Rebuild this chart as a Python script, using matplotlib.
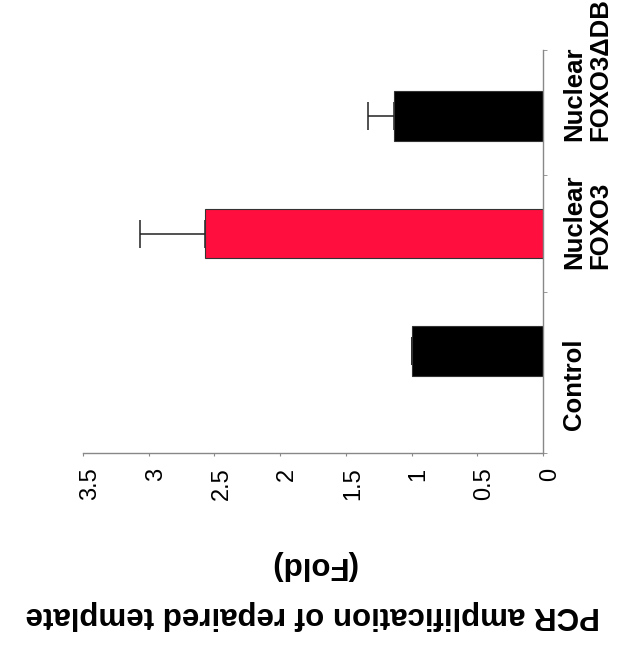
import numpy as np
import matplotlib
matplotlib.use("Agg")
import matplotlib.pyplot as plt
from matplotlib.transforms import ScaledTranslation

# bars from bottom to top (chart is drawn turned on its side)
categories = ["Control", "Nuclear\nFOXO3", "Nuclear\nFOXO3\u0394DB"]
fold = [1.00, 2.57, 1.13]
err_up = [0.0, 0.50, 0.20]
bar_colors = ["#000000", "#FF0E3E", "#000000"]
value_ticks = [0, 0.5, 1, 1.5, 2, 2.5, 3, 3.5]
value_labels = ["0", "0.5", "1", "1.5", "2", "2.5", "3", "3.5"]
label_shift_px = [-33, 12, 46]   # nudge of each category label along the axis

plt.rcParams["font.family"] = ["Liberation Sans", "DejaVu Sans"]

fig = plt.figure(figsize=(6.2, 6.58), dpi=100)
ax = fig.add_axes([83 / 620, 205 / 658, 460 / 620, 403 / 658])

pos = np.arange(len(categories))
ax.barh(pos, fold, height=0.425, color=bar_colors, edgecolor="#333333",
        linewidth=0.8, zorder=2)
ax.errorbar(fold, pos, xerr=[np.zeros(len(fold)), err_up], fmt="none",
            ecolor="#222222", elinewidth=1.1, capsize=10, capthick=1.1, zorder=1)

ax.set_xlim(3.5, 0)
ax.set_ylim(-0.868, 2.562)

for s in ["left", "top"]:
    ax.spines[s].set_visible(False)
for s in ["right", "bottom"]:
    ax.spines[s].set_color("#888888")
    ax.spines[s].set_linewidth(1.0)

ax.set_xticks(value_ticks, value_labels, rotation=90, fontsize=17)
ax.tick_params(axis="x", direction="out", length=2.5, color="#888888", pad=8)
off = ScaledTranslation(7 / 100, 0, fig.dpi_scale_trans)
for t in ax.get_xticklabels():
    t.set_transform(t.get_transform() + off)

ax.yaxis.tick_right()
ax.set_yticks(pos, categories, rotation=90, fontsize=18.5, fontweight="bold",
              va="center", ha="left", linespacing=1.1)
ax.tick_params(axis="y", which="major", length=0, pad=14)
ax.set_yticks([-0.868, 0.5, 1.5, 2.562], minor=True)
ax.tick_params(axis="y", which="minor", direction="out", length=3,
               color="#888888", right=True, left=False)
for t, dy in zip(ax.get_yticklabels(), label_shift_px):
    t.set_transform(t.get_transform() + ScaledTranslation(0, dy / 100, fig.dpi_scale_trans))

ax.set_xlabel("PCR amplification of repaired template\n(Fold)", rotation=180,
              fontsize=22.5, fontweight="bold", labelpad=36, linespacing=1.85)

fig.savefig("out.png", dpi=100)
